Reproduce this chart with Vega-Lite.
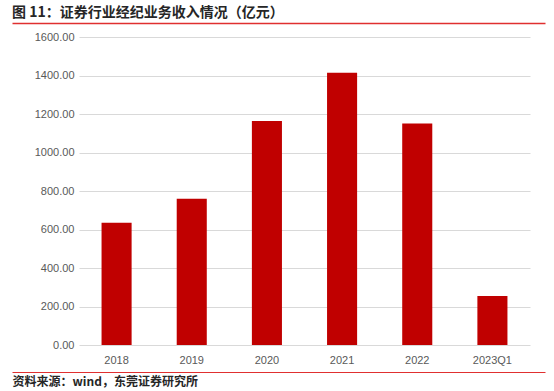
{
  "$schema": "https://vega.github.io/schema/vega-lite/v6.json",
  "autosize": "none",
  "width": 451,
  "height": 308,
  "padding": {"left": 79, "top": 37, "right": 24, "bottom": 46},
  "background": "white",
  "config": {"view": {"stroke": null}},
  "title": {
    "text": "图 11：证券行业经纪业务收入情况（亿元）",
    "anchor": "start",
    "frame": "bounds",
    "font": "Noto Sans CJK SC",
    "fontSize": 14,
    "fontWeight": "bold",
    "color": "#262626",
    "offset": 3
  },
  "data": {
    "values": [
      {"period": "2018", "income": 635},
      {"period": "2019", "income": 760},
      {"period": "2020", "income": 1164},
      {"period": "2021", "income": 1414},
      {"period": "2022", "income": 1151},
      {"period": "2023Q1", "income": 254}
    ]
  },
  "layer": [
    {
      "mark": {"type": "bar", "color": "#c00000"},
      "encoding": {
        "x": {
          "field": "period",
          "type": "nominal",
          "sort": null,
          "scale": {"paddingInner": 0.6, "paddingOuter": 0.3},
          "axis": {
            "title": null,
            "labelAngle": 0,
            "domain": false,
            "ticks": false,
            "labelFont": "Liberation Sans",
            "labelFontSize": 11,
            "labelColor": "#595959",
            "labelPadding": 9
          }
        },
        "y": {
          "field": "income",
          "type": "quantitative",
          "scale": {"domain": [0, 1600]},
          "axis": {
            "title": null,
            "values": [0, 200, 400, 600, 800, 1000, 1200, 1400, 1600],
            "format": ".2f",
            "domain": false,
            "ticks": false,
            "labelFont": "Liberation Sans",
            "labelFontSize": 11,
            "labelColor": "#595959",
            "labelPadding": 5,
            "gridColor": "#d9d9d9",
            "gridWidth": 1
          }
        }
      }
    },
    {
      "mark": {"type": "bar", "opacity": 0},
      "encoding": {
        "x": {
          "field": "period",
          "type": "nominal",
          "sort": null,
          "scale": {"range": [-67, 466]},
          "axis": {
            "orient": "top",
            "offset": 14,
            "title": null,
            "labels": false,
            "ticks": false,
            "grid": false,
            "domainColor": "#e03030",
            "domainWidth": 1.5
          }
        }
      }
    },
    {
      "mark": {"type": "bar", "opacity": 0},
      "encoding": {
        "x": {
          "field": "period",
          "type": "nominal",
          "sort": null,
          "scale": {"range": [-67, 466]},
          "axis": {
            "orient": "bottom",
            "offset": 27,
            "title": "资料来源：wind，东莞证券研究所",
            "titleAnchor": "start",
            "titleAlign": "left",
            "titleFont": "Noto Sans CJK SC",
            "titleFontSize": 12,
            "titleFontWeight": "bold",
            "titleColor": "#262626",
            "titlePadding": 4,
            "labels": false,
            "ticks": false,
            "grid": false,
            "domainColor": "#e03030",
            "domainWidth": 1
          }
        }
      }
    }
  ],
  "resolve": {"scale": {"x": "independent"}, "axis": {"x": "independent"}}
}
